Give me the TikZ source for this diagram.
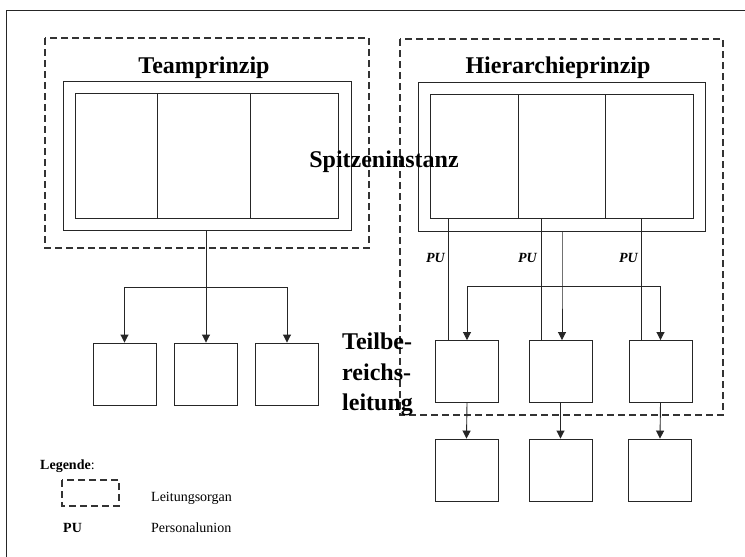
\documentclass[tikz,border=0pt]{standalone}
\usepackage{fontspec}
\setmainfont{Liberation Serif}
\usetikzlibrary{arrows.meta}
\tikzset{
  ln/.style={draw=black!85, line width=0.9pt},
  dashbox/.style={draw=black!80, line width=1.2pt, dash pattern=on 7pt off 4pt},
  box/.style={ln, rectangle, inner sep=0pt, minimum width=63pt, minimum height=62pt},
  arr/.style={ln, -{Triangle[length=8pt,width=8pt]}},
  bigt/.style={font=\fontsize{24}{24}\selectfont\bfseries, anchor=base, inner sep=0pt},
  pulab/.style={font=\fontsize{14}{14}\selectfont\bfseries\itshape, anchor=base east, inner sep=0pt},
  small/.style={font=\fontsize{14}{14}\selectfont, anchor=base west, inner sep=0pt},
}
\begin{document}
\begin{tikzpicture}[x=1pt,y=-1pt]
\useasboundingbox (0,0) rectangle (745,557);
\fill[white] (0,0) rectangle (745,557);
% outer frame
\draw[ln] (6,557) -- (6,10) -- (745,10);

% ---------- Teamprinzip ----------
\draw[dashbox] (45,38) rectangle (369,248);
\node[bigt] (tt) at (204,73) {Teamprinzip};
\node[ln, rectangle, inner sep=0pt, minimum width=288pt, minimum height=149pt] (tout) at (207,155.5) {};
\node[ln, rectangle, inner sep=0pt, minimum width=263pt, minimum height=125pt] (tin) at (206.5,155.5) {};
\draw[ln] (157,93) -- (157,218);
\draw[ln] (250,93) -- (250,218);

\node[box] (t1) at (124.5,374) {};
\node[box] (t2) at (206,374) {};
\node[box] (t3) at (287,374) {};
\coordinate (tb) at (206,287);
\draw[arr] (tout.south -| t2) -- (t2.north);
\draw[arr] (tb) -| (t1.north);
\draw[arr] (tb) -| (t3.north);

% ---------- Hierarchieprinzip ----------
\draw[dashbox] (400,39) rectangle (723,415);
\node[bigt] (ht) at (558,73) {Hierarchieprinzip};
\node[ln, rectangle, inner sep=0pt, minimum width=287pt, minimum height=149pt] (hout) at (561.5,156.5) {};
\node[ln, rectangle, inner sep=0pt, minimum width=263pt, minimum height=124pt] (hin) at (561.5,156) {};
\draw[ln] (518,94) -- (518,218);
\draw[ln] (605,94) -- (605,218);

\node[bigt] (spitze) at (384,167) {Spitzeninstanz};

\node[box] (h1) at (467,371.5) {};
\node[box] (h2) at (560.5,371.5) {};
\node[box] (h3) at (660.5,371.5) {};
\coordinate (hb) at (562,286);
\draw[arr] (hout.south -| hb) -- (hb) -- (hb |- h2.north);
\draw[arr] (hb) -| (h1.north);
\draw[arr] (hb) -| (h3.north);

% Personalunion lines
\coordinate (pu1) at ([xshift=13pt]h1.north west);
\coordinate (pu2) at ([xshift=13pt]h2.north west);
\coordinate (pu3) at ([xshift=13pt]h3.north west);
\draw[ln] (pu1 |- hin.south) -- (pu1);
\draw[ln] (pu2 |- hin.south) -- (pu2);
\draw[ln] (pu3 |- hin.south) -- (pu3);
\node[pulab] (pul1) at (445,262) {PU};
\node[pulab] (pul2) at (537,262) {PU};
\node[pulab] (pul3) at (638,262) {PU};

\node[box] (b1) at (466.5,470) {};
\node[box] (b2) at (560.5,470) {};
\node[box] (b3) at (660,470) {};
\draw[arr] (h1.south) -- (b1.north);
\draw[arr] (h2.south) -- (b2.north);
\draw[arr] (h3.south) -- (b3.north);

\node[anchor=north west, inner sep=0pt, align=left,
      font=\fontsize{24}{30.5}\selectfont\bfseries] (teil) at (342,333)
      {Teilbe-\\reichs-\\leitung};

% ---------- Legende ----------
\node[small] (leg) at (40,469) {\textbf{Legende}:};
\draw[dashbox] (62,480) rectangle (119,506);
\node[small] (lo) at (151,501) {Leitungsorgan};
\node[small, font=\fontsize{14}{14}\selectfont\bfseries] (lpu) at (63,532) {PU};
\node[small] (lp) at (151,532) {Personalunion};
\end{tikzpicture}
\end{document}
